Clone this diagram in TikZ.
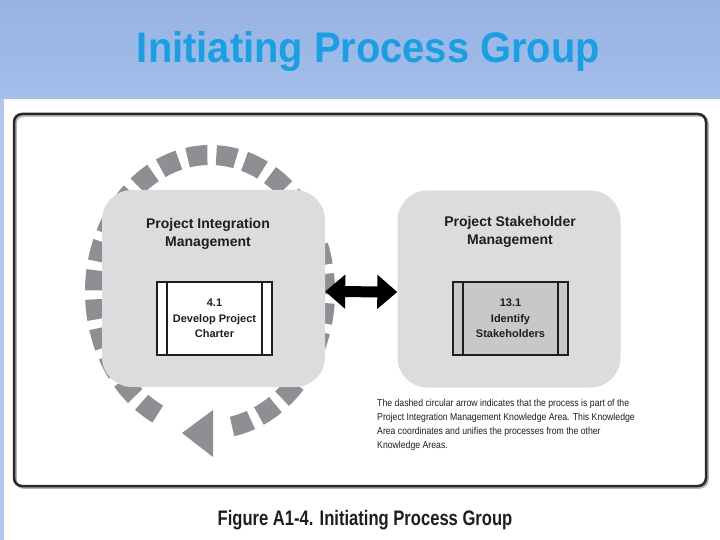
\documentclass[tikz,border=0pt]{standalone}
\usepackage{fontspec}
\usepackage{graphicx}
\setmainfont{Liberation Sans}
\newfontfamily\notefont[FakeStretch=0.87]{Liberation Sans}
\newfontfamily\capfont[FakeStretch=0.79]{Liberation Sans}
\usepackage{tikz}
\usetikzlibrary{arrows.meta,calc,positioning}
\definecolor{bandtop}{RGB}{152,178,226}
\definecolor{bandbot}{RGB}{164,190,234}
\definecolor{stripblue}{RGB}{176,198,238}
\definecolor{framedark}{RGB}{40,40,40}
\definecolor{groupgray}{RGB}{219,220,221}
\definecolor{procgray}{RGB}{200,200,200}
\definecolor{ringgray}{RGB}{141,143,147}
\definecolor{inkdark}{RGB}{30,30,30}
\definecolor{titleblue}{RGB}{24,160,228}

\begin{document}
\begin{tikzpicture}[
  x=1pt, y=-1pt,
  group/.style={fill=groupgray, rounded corners=30pt, minimum width=223pt, minimum height=197pt, inner sep=0pt},
  grouptitle/.style={font=\bfseries\fontsize{14}{18}\selectfont, text=inkdark, align=center, inner sep=0pt},
  procbox/.style={draw=inkdark, line width=1.1pt, minimum width=115pt, minimum height=73pt, inner sep=0pt,
    align=center, font=\bfseries\fontsize{11}{15.5}\selectfont, text=inkdark,
    path picture={\draw[inkdark, line width=1.1pt]
      ([xshift=10pt]path picture bounding box.north west) -- ([xshift=10pt]path picture bounding box.south west)
      ([xshift=-10pt]path picture bounding box.north east) -- ([xshift=-10pt]path picture bounding box.south east);}},
  ring/.style={draw=ringgray, line width=20pt, dash pattern=on 20pt off 9pt},
  dblarr/.style={{Triangle[length=20pt, width=33pt]}-{Triangle[length=20pt, width=33pt]}, line width=11pt, draw=black},
  note/.style={font=\notefont\fontsize{10}{14}\selectfont, text=inkdark, align=left, inner sep=0pt}
]
\useasboundingbox (0,0) rectangle (720,540);
% slide background
\shade[top color=bandtop, bottom color=bandbot] (0,0) rectangle (720,99);
\fill[stripblue] (0,99) rectangle (4,540);
\node[inner sep=0pt, text=titleblue] (title) at (368.5,52) {\bfseries\resizebox*{463pt}{40pt}{Initiating Process Group}};
% figure frame
\draw[gray!60, line width=2.5pt, rounded corners=8pt] (15.5,115.5) rectangle (707.5,487.5);
\draw[framedark, line width=2.5pt, rounded corners=8pt] (14,114) rectangle (706,486);
% dashed circular arrow
\coordinate (hub) at (210,292);
\coordinate (ringtip) at (182,433);
\draw[ring] (hub) ++(117:115 and 137) arc[start angle=117, end angle=442, x radius=115, y radius=137];
\fill[ringgray] (ringtip) -- ++(31,-23) -- ++(0,47) -- cycle;
% knowledge areas
\node[group] (integ) at (213.5,288.5) {};
\node[group] (stake) at (509,289) {};
\node[grouptitle] (integtitle) at (208,234) {Project Integration\\Management};
\node[grouptitle] (staketitle) at (510,232) {Project Stakeholder\\Management};
\node[procbox, fill=white] (charter) at (214.5,318.5) {4.1\\Develop Project\\Charter};
\node[procbox, fill=procgray] (identify) at (510.5,318.5) {13.1\\Identify\\Stakeholders};
\draw[dblarr] ([yshift=-3pt]integ.east) -- ([yshift=-3pt]stake.west);
\node[note, anchor=north west] (remark) at (377,399) {The dashed circular arrow indicates that the process is part of the\\
Project Integration Management Knowledge Area. This Knowledge\\
Area coordinates and unifies the processes from the other\\
Knowledge Areas.};
\node[font=\capfont\bfseries\fontsize{21}{25}\selectfont, text=inkdark] (caption) at (365,520) {Figure A1-4. Initiating Process Group};
\end{tikzpicture}
\end{document}
